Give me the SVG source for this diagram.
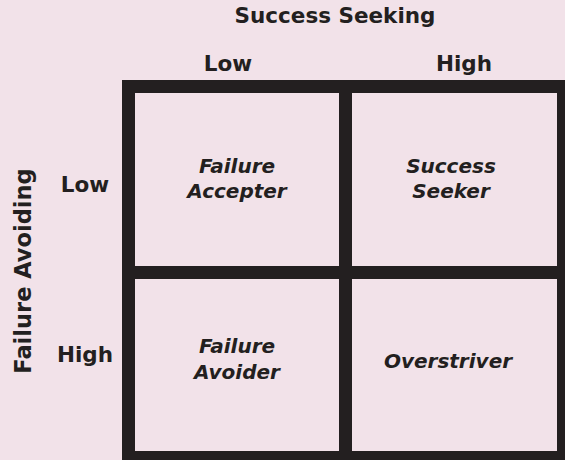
<svg xmlns="http://www.w3.org/2000/svg" width="565" height="460" viewBox="0 0 565 460">
  <style>
    .bg { fill: #f2e2e9; }
    .cell { fill: #f2e2e9; stroke: #231f20; stroke-width: 13; }
    .head { font-family: "DejaVu Sans", "Liberation Sans", sans-serif; font-weight: 700; font-size: 21.5px; fill: #231f20; text-anchor: middle; }
    .lbl { font-family: "DejaVu Sans", "Liberation Sans", sans-serif; font-weight: 700; font-style: italic; font-size: 20px; fill: #231f20; text-anchor: middle; }
  </style>
  <rect class="bg" x="0" y="0" width="565" height="460"/>

  <!-- axis headings -->
  <g id="axis-success">
    <text class="head" x="335" y="23">Success Seeking</text>
    <text class="head" x="228" y="71">Low</text>
    <text class="head" x="464" y="71">High</text>
  </g>
  <g id="axis-failure">
    <text class="head" x="31" y="271" transform="rotate(-90 31 271)" style="font-size:22.5px">Failure Avoiding</text>
    <text class="head" x="85" y="192">Low</text>
    <text class="head" x="85" y="362">High</text>
  </g>

  <!-- quadrants -->
  <g id="failure-accepter">
    <rect class="cell" x="128.5" y="86.5" width="217" height="186"/>
    <text class="lbl" x="237" y="173">Failure</text>
    <text class="lbl" x="237" y="198">Accepter</text>
  </g>
  <g id="success-seeker">
    <rect class="cell" x="345.5" y="86.5" width="218" height="186"/>
    <text class="lbl" x="451" y="173">Success</text>
    <text class="lbl" x="451" y="198">Seeker</text>
  </g>
  <g id="failure-avoider">
    <rect class="cell" x="128.5" y="272.5" width="217" height="185"/>
    <text class="lbl" x="237" y="353">Failure</text>
    <text class="lbl" x="237" y="379">Avoider</text>
  </g>
  <g id="overstriver">
    <rect class="cell" x="345.5" y="272.5" width="218" height="185"/>
    <text class="lbl" x="448" y="368">Overstriver</text>
  </g>
  <g id="connectors"/>
</svg>
